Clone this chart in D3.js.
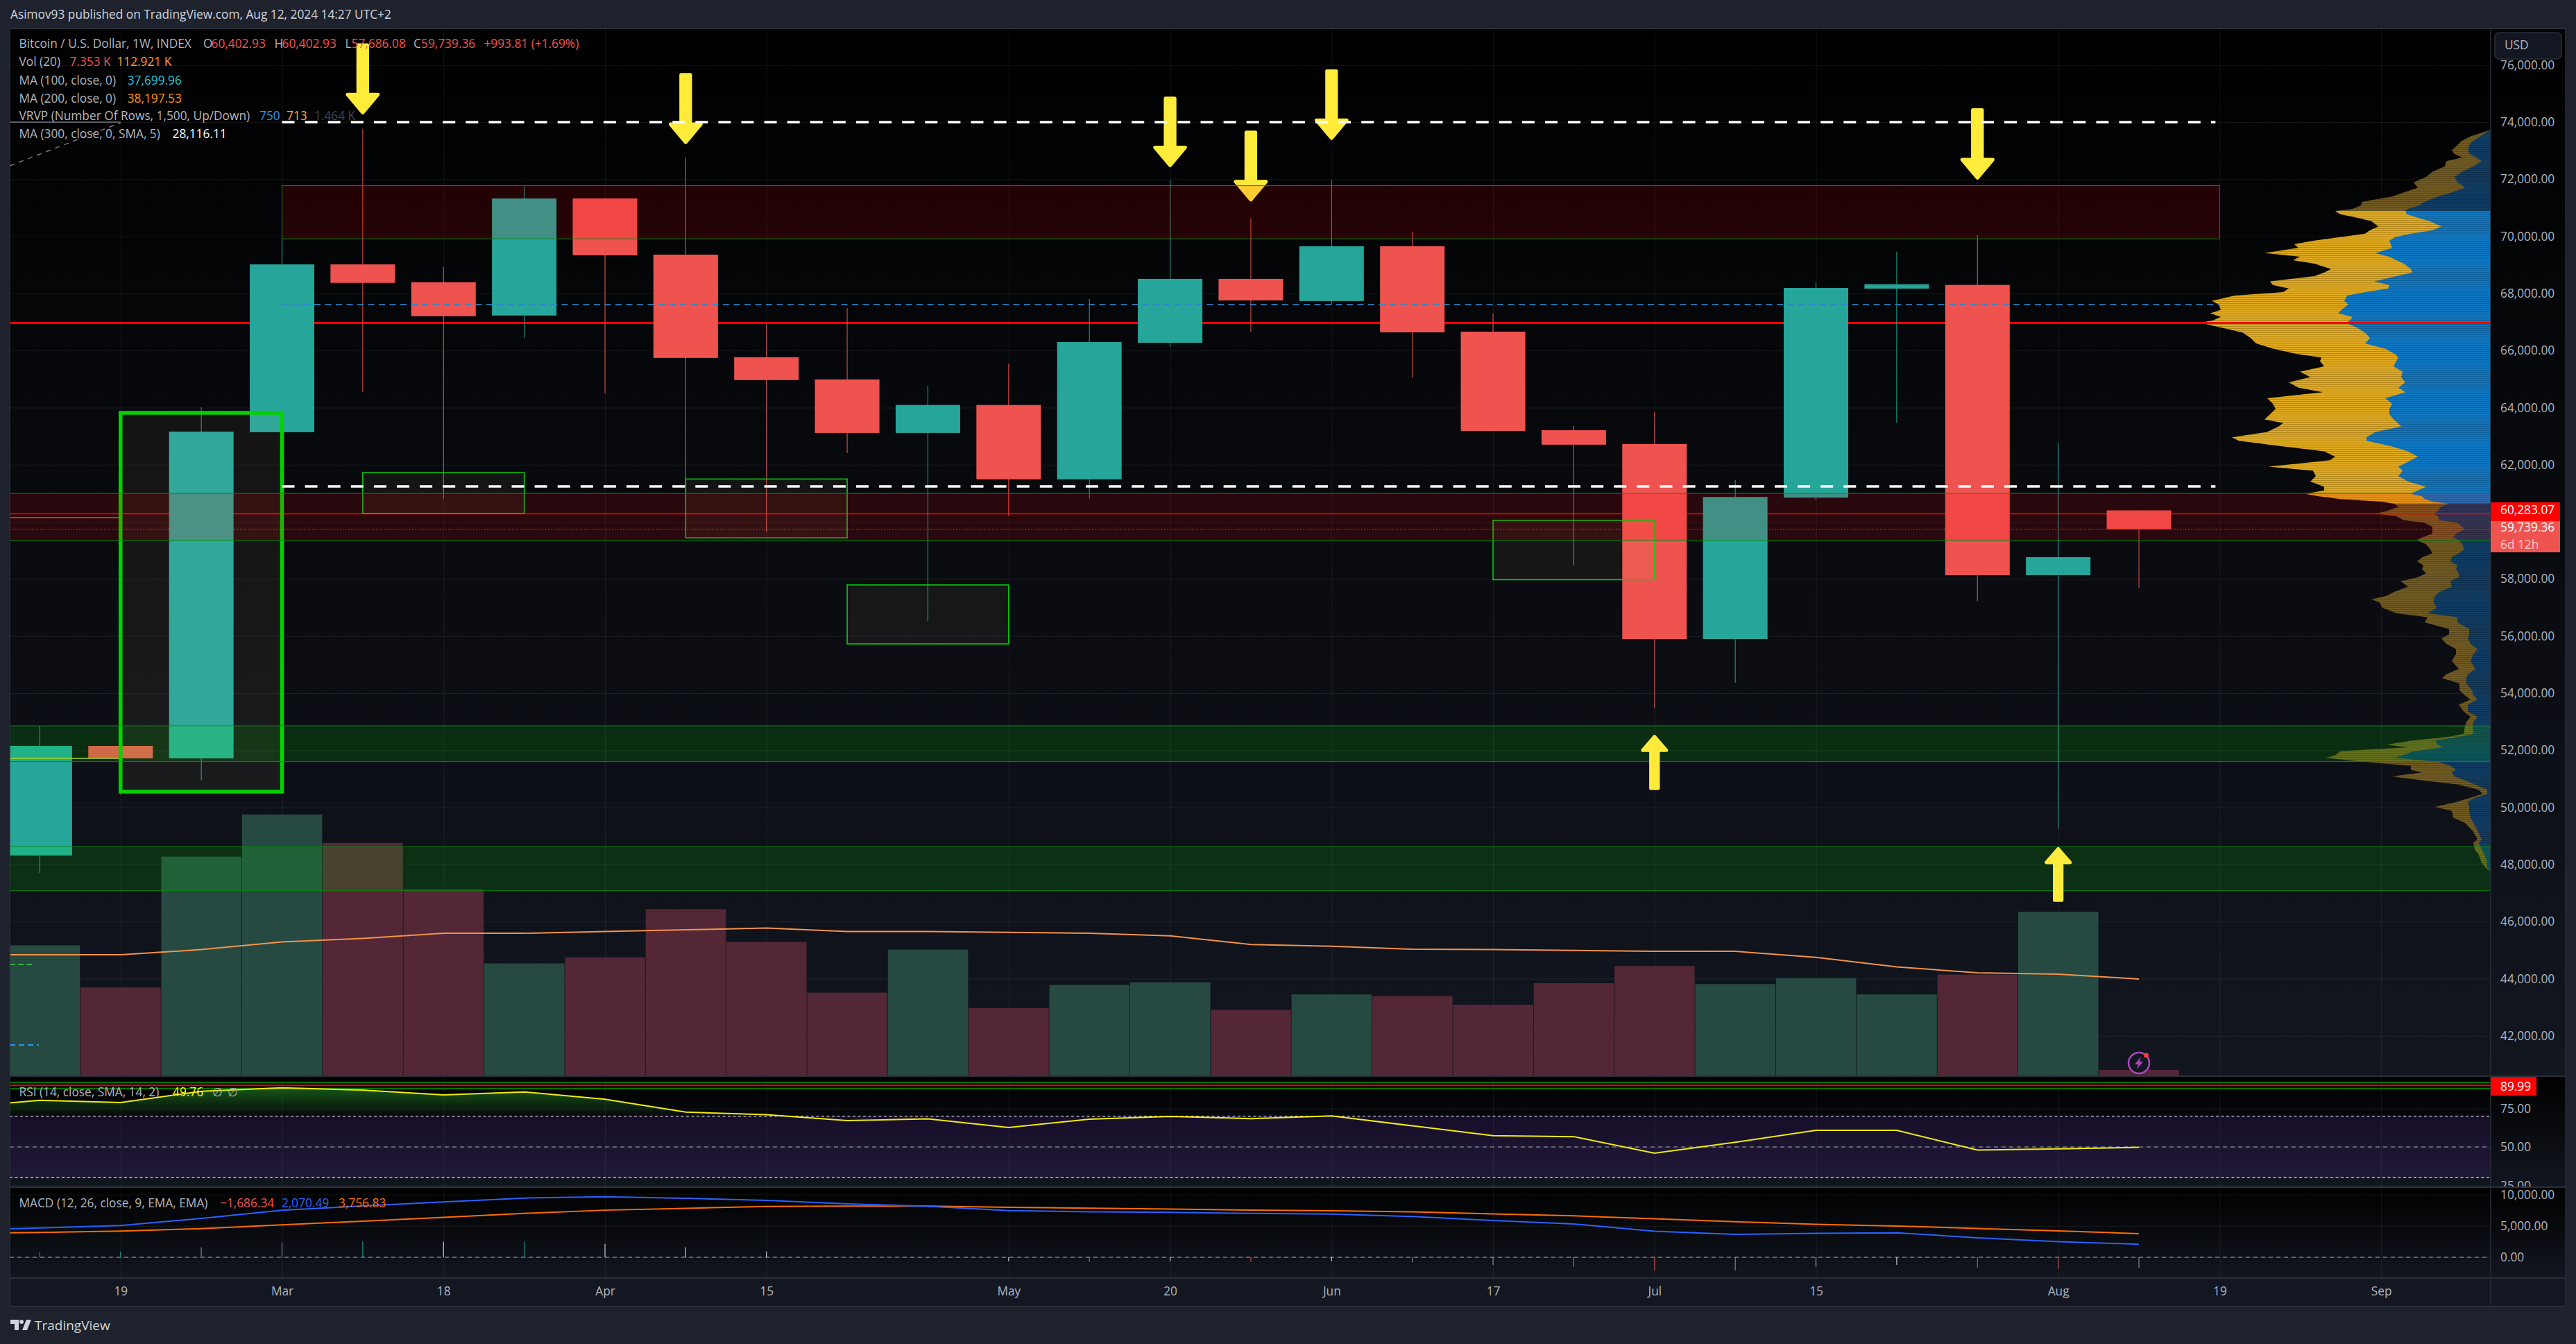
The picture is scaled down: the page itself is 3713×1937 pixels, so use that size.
<!DOCTYPE html>
<html>
<head>
<meta charset="utf-8">
<style>
  html, body { margin: 0; padding: 0; background: #1e222d; }
  svg { display: block; }
  text { font-family: "Open Sans", sans-serif; }
</style>
<script src="https://cdnjs.cloudflare.com/ajax/libs/d3/7.8.5/d3.min.js"></script>
</head>
<body>
<div id="chart"></div>
<script>
// Weekly candles, Feb 12 2024 -> Aug 12 2024
const opens  = [48313,52153,51715,63139,69017,68393,67226,71326,69359,65766,64988,63115,64093,61490,66272,68510,67733,69653,66661,63209,62727,55895,60848,68169,68298,58132,60402.93];
const closes = [52153,51716,63160,69017,68369,67203,71326,69335,65742,64965,63115,64093,61490,66296,68510,67756,69653,66637,63186,62703,55895,60871,68191,68322,58132,58763,59739.36];
const highs  = [52858,53000,64011,70000,73764,68923,71750,71326,72763,66920,67485,64764,65542,67804,71962,70631,71962,70160,67297,63362,63846,61466,68392,69465,70042,62750,60402.93];
const lows   = [47706,50450,50945,63139,64552,60794,66437,64494,60700,59640,62408,56527,60205,60818,66119,66649,67615,65047,63186,58484,53470,54365,60755,63468,57220,49250,57686.08];

// Volume in K per week
const volumes = [152,103,255,304,271,217,131,138,194,156,97,147,79,106,109,77,95,93,83,108,128,107,114,95,118,191,7.353];

// Volume MA, RSI and MACD start one week before the first visible candle
const volumeMA = [141,141,141,147,156,160,166,166,168,170,172,168,168,167,166,163,153,151,147.5,147,146,145,145,138,127,120,118.5,112.921];
const rsiValues = [75.8,80.3,78.8,86.2,88.4,86.9,83.8,85.7,81,72.6,71,67.1,68.2,62.6,68,69.8,68.4,70.2,63.7,57.3,56.7,46,53,60.8,60.8,48,48.8,49.76];
const macdValues = [4270,4674,5050,6190,7480,8170,8800,9430,9650,9390,9060,8500,8120,7440,7240,7160,6990,6870,6500,5860,5300,4150,3660,3810,3900,3090,2490,2070.49];
const signalValues = [3790,3940,4180,4570,5160,5750,6360,7000,7500,7800,8100,8150,8150,7950,7830,7680,7510,7400,7240,6910,6590,6140,5670,5260,4980,4590,4200,3756.83];
const histValues = [810,920,1580,2360,2580,2470,2470,2140,1590,925,0,-200,-640,-760,-640,-720,-640,-840,-1205,-1530,-2090,-2090,-1530,-1205,-1650,-1840,-1686.34];
const histColors = ["t","t","g","g","t","w","t","w","w","w","w","r","w","r","w","r","w","g","g","g","r","g","p","w","r","r","g"];

// Visible range volume profile rows: price, up volume, up + down volume
const vrvpPrices = [73715,73628,73504,73318,73194,73008,72884,72760,72636,72450,72264,72078,71892,71706,71520,71396,71210,71086,70962,70888,70776,70652,70528,70342,70218,70094,69970,69846,69722,69598,69412,69288,69164,69040,68854,68730,68606,68420,68296,68172,68048,67924,67738,67614,67428,67304,67180,67056,66969,66808,66622,66436,66250,66064,65878,65754,65630,65444,65258,65072,64886,64700,64539,64328,64142,63956,63770,63584,63460,63336,63150,62964,62840,62654,62468,62282,62158,61935,61786,61600,61414,61228,61104,60980,60894,60801,60708,60634,60522,60382,60290,60196,60057,59964,59825,59732,59592,59452,59360,59220,59034,58895,58755,58616,58476,58337,58197,58058,57918,57732,57546,57406,57286,57174,56988,56802,56662,56477,56244,56058,55919,55732,55546,55360,55128,54849,54663,54524,54338,54105,53919,53780,53594,53361,53175,52989,52849,52570,52477,52338,52198,52106,51966,51826,51733,51594,51455,51315,51222,51083,50943,50804,50617,50477,50338,50199,50013,49873,49641,49455,49176,48897,48757,48525,48339,48060,47874,47753];
const vrvpUp = [2,7,15,27,31,33,30,21,13,25,41,52,48,37,58,76,95,103,119,123,121,105,88,71,84,115,138,146,144,142,166,146,136,125,115,113,136,168,146,148,181,207,211,205,215,220,199,203,209,193,181,174,181,152,138,133,136,140,127,129,123,133,123,152,142,146,146,140,134,129,166,179,179,144,119,105,115,133,127,133,119,93,105,115,99,95,84,60,72,76,82,76,74,48,41,38,50,54,46,41,38,46,56,58,48,50,46,46,58,56,74,80,82,82,78,91,48,48,31,31,33,29,19,25,29,22,33,35,35,27,25,19,33,33,19,25,26,25,45,80,76,68,111,127,138,76,58,50,56,52,37,23,5,5,23,33,31,31,29,25,19,13,17,13,9,5,5,1];
const vrvpTotal = [2,13,29,43,48,56,52,41,64,66,84,93,111,105,127,142,185,187,199,224,217,193,172,162,174,181,217,256,283,277,326,275,285,254,230,240,254,318,314,291,299,369,402,392,389,404,389,400,419,389,357,346,338,314,279,244,246,240,275,260,291,277,242,322,314,310,318,326,299,306,322,373,363,303,240,224,232,320,256,252,260,240,240,267,248,217,158,139,133,150,166,136,125,95,84,84,84,99,107,93,87,84,99,106,97,99,93,105,130,119,139,150,172,160,156,136,91,95,60,60,71,64,50,50,56,46,64,70,45,45,37,29,46,39,29,35,37,39,60,115,150,119,217,224,238,182,115,115,99,142,99,48,17,12,29,48,80,56,54,37,26,19,25,23,17,13,7,1];
const valueAreaHigh = 70888;
const valueAreaLow = 60634;

// Price levels and zones
const priceTicks = [42000,44000,46000,48000,50000,52000,54000,56000,58000,60000,62000,64000,66000,68000,70000,72000,74000,76000];
const rsiTicks = [25,50,75];
const macdTicks = [0,5000,10000];
const timeTickIndex = [1,3,5,7,9,12,14,16,18,20,22,25,27,29];
const timeTickLabels = ["19","Mar","18","Apr","15","May","20","Jun","17","Jul","15","Aug","19","Sep"];

const redZones = [[71774,69912,3,27],[60995,59357,-1,31]];
const greenZones = [[52858,51603,-1,31],[48620,47080,-1,31]];
const smallBoxes = [[61725,60288,4,6],[61501,59440,8,10],[57791,55725,10,12],[60050,57973,18,20]];
const bigBox = [63818,50550,1,3];
const whiteLevels = [74000,61240];
const downArrows = [[4,76757,74271],[8,75720,73234],[14,74895,72421],[15,73705,71220],[16,75849,73376],[24,74483,71986]];
const upArrows = [[20,50610,52540],[25,46690,48610]];

// Pane geometry
const W = 3713, H = 1937;
const paneLeft = 14, paneTop = 41, paneRight = 3590, axisRight = 3698;
const mainBottom = 1551, rsiBottom = 1711, macdBottom = 1842, timeBottom = 1883;
const candleWidth = 93;

const RED = "#ef5350", TEAL = "#26a69a", GREY = "#b2b5be";

const svg = d3.select("#chart").append("svg").attr("width", W).attr("height", H);
const defs = svg.append("defs");

svg.append("rect").attr("width", W).attr("height", H).attr("fill", "#1e222d");

// Scales
const xScale = d3.scaleLinear().domain([0, 26]).range([57.4, 3083]);
const yPrice = d3.scaleLinear().domain([42000, 74000]).range([1492.8, 176]);
const yVol = d3.scaleLinear().domain([0, 806]).range([mainBottom, mainBottom - 1000]);
const yRsi = d3.scaleLinear().domain([25, 75]).range([1708.5, 1597.5]);
const yMacd = d3.scaleLinear().domain([0, 10000]).range([1812, 1721.5]);
const xVol = d3.scaleLinear().domain([0, 100]).range([paneRight, paneRight - 100]);

// Pane backgrounds, black at the top fading to the navy at the bottom
function paneGradient(id, y1, y2) {
    const g = defs.append("linearGradient").attr("id", id)
        .attr("gradientUnits", "userSpaceOnUse")
        .attr("x1", 0).attr("x2", 0).attr("y1", y1).attr("y2", y2);
    g.append("stop").attr("offset", 0).attr("stop-color", "#000000");
    g.append("stop").attr("offset", 1).attr("stop-color", "#12161f");
}
paneGradient("bgMain", paneTop, mainBottom);
paneGradient("bgRsi", mainBottom, rsiBottom);
paneGradient("bgMacd", rsiBottom, macdBottom);

[["bgMain", paneTop, mainBottom], ["bgRsi", mainBottom, rsiBottom], ["bgMacd", rsiBottom, macdBottom]].forEach(p => {
    svg.append("rect").attr("x", paneLeft).attr("y", p[1])
        .attr("width", axisRight - paneLeft).attr("height", p[2] - p[1])
        .attr("fill", `url(#${p[0]})`);
});
svg.append("rect").attr("x", paneLeft).attr("y", macdBottom)
    .attr("width", axisRight - paneLeft).attr("height", timeBottom - macdBottom)
    .attr("fill", "#131722");

// Clips
function addClip(id, y1, y2) {
    defs.append("clipPath").attr("id", id).append("rect")
        .attr("x", paneLeft).attr("y", y1).attr("width", paneRight - paneLeft).attr("height", y2 - y1);
}
addClip("clipMain", paneTop, mainBottom);
addClip("clipRsi", mainBottom, rsiBottom);
addClip("clipMacd", rsiBottom, macdBottom);
addClip("clipRsiHigh", mainBottom, yRsi(70));

const mainG = svg.append("g").attr("clip-path", "url(#clipMain)");
const rsiG = svg.append("g").attr("clip-path", "url(#clipRsi)");
const macdG = svg.append("g").attr("clip-path", "url(#clipMacd)");

// Grid lines
const GRID = "rgba(255,255,255,0.07)";
function styleGrid(g) {
    g.select(".domain").remove();
    g.selectAll("text").remove();
    g.selectAll("line").attr("stroke", GRID).attr("stroke-width", 1);
}
[[mainG, paneTop, mainBottom], [rsiG, mainBottom, rsiBottom], [macdG, rsiBottom, macdBottom]].forEach(p => {
    p[0].append("g").attr("transform", `translate(0,${p[2]})`)
        .call(d3.axisTop(xScale).tickValues(timeTickIndex).tickSize(p[2] - p[1]))
        .call(styleGrid);
});
mainG.append("g").attr("transform", `translate(${paneRight},0)`)
    .call(d3.axisLeft(yPrice).tickValues(priceTicks).tickSize(paneRight - paneLeft)).call(styleGrid);
rsiG.append("g").attr("transform", `translate(${paneRight},0)`)
    .call(d3.axisLeft(yRsi).tickValues(rsiTicks).tickSize(paneRight - paneLeft)).call(styleGrid);
macdG.append("g").attr("transform", `translate(${paneRight},0)`)
    .call(d3.axisLeft(yMacd).tickValues(macdTicks).tickSize(paneRight - paneLeft)).call(styleGrid);

// Volume bars
const barWidth = xScale(1) - xScale(0);
mainG.append("g").selectAll("rect").data(volumes).enter().append("rect")
    .attr("x", (d, i) => xScale(i) - barWidth / 2 + 0.5)
    .attr("width", barWidth - 0.8)
    .attr("y", d => yVol(d))
    .attr("height", d => mainBottom - yVol(d))
    .attr("fill", (d, i) => closes[i] >= opens[i] ? "#264a41" : "#532735");

mainG.append("path")
    .attr("d", d3.line().x((d, i) => xScale(i - 1)).y(d => yVol(d))(volumeMA))
    .attr("fill", "none").attr("stroke", "#f5924a").attr("stroke-width", 2);

// Volume profile, striped rows
function stripes(id, color) {
    const p = defs.append("pattern").attr("id", id).attr("patternUnits", "userSpaceOnUse")
        .attr("width", 8).attr("height", 3);
    p.append("rect").attr("width", 8).attr("height", 3).attr("fill", color);
    p.append("rect").attr("y", 2).attr("width", 8).attr("height", 1).attr("fill", "rgba(0,0,0,0.2)");
}
stripes("brightBlue", "#0f77c2");
stripes("brightYellow", "#e0a920");
stripes("dimBlue", "#113c62");
stripes("dimYellow", "#705a22");

const vrvpRows = vrvpPrices.map((p, i) => ({ price: p, up: vrvpUp[i], total: vrvpTotal[i] }));
const vrvpSegments = [
    { rows: vrvpRows.filter(r => r.price >= valueAreaHigh), blue: "dimBlue", yellow: "dimYellow" },
    { rows: vrvpRows.filter(r => r.price <= valueAreaHigh && r.price >= valueAreaLow), blue: "brightBlue", yellow: "brightYellow" },
    { rows: vrvpRows.filter(r => r.price <= valueAreaLow), blue: "dimBlue", yellow: "dimYellow" }
];
vrvpSegments.forEach(seg => {
    const area = key => d3.area().y(r => yPrice(r.price)).x0(paneRight).x1(r => xVol(r[key]));
    mainG.append("path").attr("d", area("total")(seg.rows)).attr("fill", `url(#${seg.yellow})`);
    mainG.append("path").attr("d", area("up")(seg.rows)).attr("fill", `url(#${seg.blue})`);
});

// Lines that sit under the candles
function hLine(g, y, x1, x2, color, width, dash) {
    return g.append("line").attr("x1", x1).attr("x2", x2).attr("y1", y).attr("y2", y)
        .attr("stroke", color).attr("stroke-width", width).attr("stroke-dasharray", dash || null);
}
hLine(mainG, yPrice(66967), paneLeft, paneRight, "#ff0000", 3);
hLine(mainG, yPrice(60283.07), paneLeft, paneRight, "#ff0000", 1.5);
hLine(mainG, yPrice(59739.36), paneLeft, paneRight, RED, 1, "1.5 2.5");
hLine(mainG, yPrice(60150), paneLeft, xScale(1), "#ef5350", 1.5);

// Candles
const candles = mainG.append("g").selectAll("g").data(opens).enter().append("g");
candles.append("line")
    .attr("x1", (d, i) => xScale(i)).attr("x2", (d, i) => xScale(i))
    .attr("y1", (d, i) => yPrice(highs[i])).attr("y2", (d, i) => yPrice(lows[i]))
    .attr("stroke", (d, i) => closes[i] >= opens[i] ? TEAL : RED).attr("stroke-width", 1);
candles.append("rect")
    .attr("x", (d, i) => xScale(i) - candleWidth / 2)
    .attr("width", candleWidth)
    .attr("y", (d, i) => yPrice(Math.max(opens[i], closes[i])))
    .attr("height", (d, i) => Math.abs(yPrice(opens[i]) - yPrice(closes[i])))
    .attr("fill", (d, i) => closes[i] >= opens[i] ? TEAL : RED);

hLine(mainG, yPrice(51716), paneLeft, xScale(1), "#c4cf22", 1.5);

// Left edge leftovers of older drawings
mainG.append("line").attr("x1", paneLeft).attr("y1", 239).attr("x2", xScale(1)).attr("y2", 177)
    .attr("stroke", "#787b86").attr("stroke-width", 1.5).attr("stroke-dasharray", "7 7");
hLine(mainG, 176, paneLeft, xScale(1), "#787b86", 1.5);
hLine(mainG, 1390, paneLeft, 50, "#2fb344", 2, "8 4");
hLine(mainG, 1506, paneLeft, 56, "#2196f3", 2, "8 5");

// Arrows, proportions follow their length; stroke rounds the corners
function arrowPath(x, yTail, yTip) {
    const len = Math.abs(yTip - yTail), dir = yTip > yTail ? 1 : -1;
    const shaft = len * 0.065, head = len * 0.215, headLen = len * 0.28;
    const tail = yTail + dir * 2.5, tip = yTip - dir * 2.5;
    const neck = yTip - dir * headLen;
    return `M${x - shaft},${tail} L${x + shaft},${tail} L${x + shaft},${neck} L${x + head},${neck} L${x},${tip} L${x - head},${neck} L${x - shaft},${neck} Z`;
}
function drawArrows(data) {
    mainG.append("g").selectAll("path").data(data).enter().append("path")
        .attr("d", d => arrowPath(xScale(d[0]), yPrice(d[1]), yPrice(d[2])))
        .attr("fill", "#ffec3a").attr("stroke", "#ffec3a").attr("stroke-width", 5).attr("stroke-linejoin", "round");
}
drawArrows(downArrows);

// Rectangles drawn on the chart
const BOX_FILL = "rgba(255,210,150,0.055)";
mainG.append("g").selectAll("rect").data(smallBoxes).enter().append("rect")
    .attr("x", d => xScale(d[2])).attr("width", d => xScale(d[3]) - xScale(d[2]))
    .attr("y", d => yPrice(d[0])).attr("height", d => yPrice(d[1]) - yPrice(d[0]))
    .attr("fill", BOX_FILL).attr("stroke", "#0ccf14").attr("stroke-width", 1.5);
mainG.append("rect")
    .attr("x", xScale(bigBox[2])).attr("width", xScale(bigBox[3]) - xScale(bigBox[2]))
    .attr("y", yPrice(bigBox[0])).attr("height", yPrice(bigBox[1]) - yPrice(bigBox[0]))
    .attr("fill", BOX_FILL).attr("stroke", "#04d004").attr("stroke-width", 5.5);

// Horizontal zones tint everything below them
function drawZones(data, fill, stroke) {
    mainG.append("g").selectAll("rect").data(data).enter().append("rect")
        .attr("x", d => xScale(d[2])).attr("width", d => xScale(d[3]) - xScale(d[2]))
        .attr("y", d => yPrice(d[0])).attr("height", d => yPrice(d[1]) - yPrice(d[0]))
        .attr("fill", fill).attr("stroke", stroke).attr("stroke-width", 1);
}
drawZones(redZones, "rgba(255,0,0,0.135)", "#0b8a10");
drawZones(greenZones, "rgba(0,255,0,0.13)", "#0b8a10");
drawArrows(upArrows);

// Lines above the candles
whiteLevels.forEach(p => {
    hLine(mainG, yPrice(p), xScale(3), xScale(27) - 6, "#ffffff", 3.5, "18 15.1");
});
hLine(mainG, yPrice(67615), xScale(3), xScale(27), "#2a86cc", 1.5, "9 6.5");

// Fire icon sitting on the last volume bar
const fx = xScale(26), fy = 1532;
const fire = svg.append("g");
fire.append("circle").attr("cx", fx).attr("cy", fy).attr("r", 15)
    .attr("fill", "#131722").attr("stroke", "#ab47bc").attr("stroke-width", 2.5);
fire.append("path")
    .attr("d", `M${fx + 3},${fy - 9} L${fx - 6},${fy + 2} L${fx - 1},${fy + 2} L${fx - 3},${fy + 9} L${fx + 6},${fy - 2} L${fx + 1},${fy - 2} Z`)
    .attr("fill", "#ab47bc");
fire.append("circle").attr("cx", fx + 10.5).attr("cy", fy - 11).attr("r", 3.5).attr("fill", "#f23645");

// RSI pane
const bandG = rsiG.append("g");
bandG.append("rect").attr("x", paneLeft).attr("width", paneRight - paneLeft)
    .attr("y", yRsi(70)).attr("height", yRsi(30) - yRsi(70)).attr("fill", "rgba(126,60,220,0.14)");
[[70, "#d8d8e0", "4 3.5"], [30, "#d8d8e0", "4 3.5"], [50, "#787b86", "6 5"]].forEach(l => {
    hLine(rsiG, yRsi(l[0]), paneLeft, paneRight, l[1], 1.3, l[2]);
});
hLine(rsiG, yRsi(91.8), paneLeft, paneRight, "#008000", 2);
hLine(rsiG, yRsi(89.99), paneLeft, paneRight, "#ff0000", 2);
hLine(rsiG, yRsi(88), paneLeft, paneRight, "#008000", 2);

const rsiGrad = defs.append("linearGradient").attr("id", "rsiFill")
    .attr("gradientUnits", "userSpaceOnUse").attr("x1", 0).attr("x2", 0)
    .attr("y1", yRsi(88)).attr("y2", yRsi(70));
rsiGrad.append("stop").attr("offset", 0).attr("stop-color", "rgba(50,200,50,0.42)");
rsiGrad.append("stop").attr("offset", 1).attr("stop-color", "rgba(50,200,50,0)");
rsiG.append("g").attr("clip-path", "url(#clipRsiHigh)").append("path")
    .attr("d", d3.area().x((d, i) => xScale(i - 1)).y0(yRsi(70)).y1(d => yRsi(d))(rsiValues))
    .attr("fill", "url(#rsiFill)");
rsiG.append("path")
    .attr("d", d3.line().x((d, i) => xScale(i - 1)).y(d => yRsi(d))(rsiValues))
    .attr("fill", "none").attr("stroke", "#f0ec10").attr("stroke-width", 2);

// MACD pane
hLine(macdG, yMacd(0), paneLeft, paneRight, "#787b86", 1.3, "6 5");
const histColor = { t: TEAL, w: "#e8e8e8", g: "#9a9ca4", r: "#ef5350", p: "#f0b0a8" };
macdG.append("g").selectAll("line").data(histValues).enter().append("line")
    .attr("x1", (d, i) => xScale(i)).attr("x2", (d, i) => xScale(i))
    .attr("y1", yMacd(0)).attr("y2", d => yMacd(d))
    .attr("stroke", (d, i) => histColor[histColors[i]]).attr("stroke-width", 1);
macdG.append("path")
    .attr("d", d3.line().x((d, i) => xScale(i - 1)).y(d => yMacd(d))(signalValues))
    .attr("fill", "none").attr("stroke", "#ff6d00").attr("stroke-width", 2);
macdG.append("path")
    .attr("d", d3.line().x((d, i) => xScale(i - 1)).y(d => yMacd(d))(macdValues))
    .attr("fill", "none").attr("stroke", "#2962ff").attr("stroke-width", 2);

// Axis labels
const FONT_SIZE = 17.3;
function styleAxis(g) {
    g.select(".domain").remove();
    g.selectAll("line").remove();
    g.selectAll("text").attr("fill", GREY).attr("font-size", FONT_SIZE)
        .style("font-family", "'Open Sans', sans-serif");
}
const fmt2 = d3.format(",.2f");
defs.append("clipPath").attr("id", "clipAxisMain").append("rect")
    .attr("x", paneRight).attr("y", paneTop).attr("width", axisRight - paneRight).attr("height", mainBottom - paneTop);
defs.append("clipPath").attr("id", "clipAxisRsi").append("rect")
    .attr("x", paneRight).attr("y", mainBottom).attr("width", axisRight - paneRight).attr("height", rsiBottom - mainBottom);
defs.append("clipPath").attr("id", "clipAxisMacd").append("rect")
    .attr("x", paneRight).attr("y", rsiBottom).attr("width", axisRight - paneRight).attr("height", macdBottom - rsiBottom);

function priceAxis(scale, ticks, clip) {
    svg.append("g").attr("clip-path", `url(#${clip})`).append("g")
        .attr("transform", `translate(${paneRight},0)`)
        .call(d3.axisRight(scale).tickValues(ticks).tickFormat(fmt2).tickSize(0).tickPadding(14))
        .call(styleAxis);
}
priceAxis(yPrice, priceTicks, "clipAxisMain");
priceAxis(yRsi, rsiTicks, "clipAxisRsi");
priceAxis(yMacd, macdTicks, "clipAxisMacd");

svg.append("g").attr("transform", `translate(0,${macdBottom})`)
    .call(d3.axisBottom(xScale).tickValues(timeTickIndex)
        .tickFormat((d, i) => timeTickLabels[i]).tickSize(0).tickPadding(13))
    .call(styleAxis);

// Pane borders
const BORDER = "#2a2e39";
[paneTop, mainBottom, rsiBottom, macdBottom, timeBottom].forEach(y => hLine(svg, y, paneLeft, axisRight, BORDER, 2));
[paneLeft, paneRight, axisRight].forEach(x => {
    svg.append("line").attr("x1", x).attr("x2", x).attr("y1", paneTop).attr("y2", timeBottom)
        .attr("stroke", BORDER).attr("stroke-width", 1.5);
});

// Currency button
svg.append("rect").attr("x", 3596).attr("y", 47).attr("width", 96).attr("height", 38).attr("rx", 6)
    .attr("fill", "#131722").attr("stroke", BORDER).attr("stroke-width", 1.5);
function label(g, x, y, str, color, size) {
    return g.append("text").attr("x", x).attr("y", y).attr("fill", color)
        .attr("font-size", size || FONT_SIZE).text(str);
}
label(svg, 3610, 71, "USD", GREY);

// Price tags
svg.append("rect").attr("x", paneRight).attr("y", 724).attr("width", 100).attr("height", 27).attr("fill", "#ff0000");
svg.append("rect").attr("x", paneRight).attr("y", 751).attr("width", 100).attr("height", 45).attr("fill", RED);
label(svg, 3604, 741, "60,283.07", "#ffffff");
label(svg, 3604, 766, "59,739.36", "#ffffff");
label(svg, 3604, 791, "6d 12h", "rgba(255,255,255,0.7)");
svg.append("rect").attr("x", paneRight).attr("y", 1552).attr("width", 66).attr("height", 27).attr("fill", "#ff0000");
label(svg, 3604, 1572, "89.99", "#ffffff");

// Header and study legends
label(svg, 15, 27, "Asimov93 published on TradingView.com, Aug 12, 2024 14:27 UTC+2", "#d1d4dc");

const legendRows = [
    [69, [[27.5, "Bitcoin / U.S. Dollar, 1W, INDEX", GREY], [293, "O", GREY], [304.6, "60,402.93", RED], [395.4, "H", GREY], [406.6, "60,402.93", RED], [497.4, "L", GREY], [506.6, "57,686.08", RED], [596, "C", GREY], [607, "59,739.36", RED], [697.4, "+993.81 (+1.69%)", RED]]],
    [95, [[27.5, "Vol (20)", GREY], [100.5, "7.353 K", RED], [168.4, "112.921 K", "#ff9a3d"]]],
    [122, [[27.5, "MA (100, close, 0)", GREY], [183.7, "37,699.96", "#26c6da"]]],
    [148, [[27.5, "MA (200, close, 0)", GREY], [183.7, "38,197.53", "#ff9800"]]],
    [173, [[27.5, "VRVP (Number Of Rows, 1,500, Up/Down)", GREY], [374, "750", "#2196f3"], [413, "713", "#f9a825"], [453, "1.464 K", "#434651"]]],
    [199, [[27.5, "MA (300, close, 0, SMA, 5)", GREY], [248.5, "28,116.11", "#ffffff"]]],
    [1580, [[27.5, "RSI (14, close, SMA, 14, 2)", GREY], [249, "49.76", "#ffff00"], [306, "∅", GREY], [328, "∅", GREY]]],
    [1740, [[27.5, "MACD (12, 26, close, 9, EMA, EMA)", GREY], [317, "−1,686.34", RED], [406, "2,070.49", "#2962ff"], [488, "3,756.83", "#ff6d00"]]]
];
legendRows.forEach(row => {
    row[1].forEach(seg => label(svg, seg[0], row[0], seg[1], seg[2]));
});

// TradingView logo
const logo = svg.append("g").attr("fill", "#d1d4dc");
logo.append("path").attr("d", "M15,1902 L27,1902 L27,1917 L21,1917 L21,1908 L15,1908 Z");
logo.append("circle").attr("cx", 31).attr("cy", 1905).attr("r", 3);
logo.append("path").attr("d", "M38,1902 L45,1902 L39,1917 L32,1917 Z");
label(svg, 50, 1917, "TradingView", "#d1d4dc", 19);
</script>
</body>
</html>
